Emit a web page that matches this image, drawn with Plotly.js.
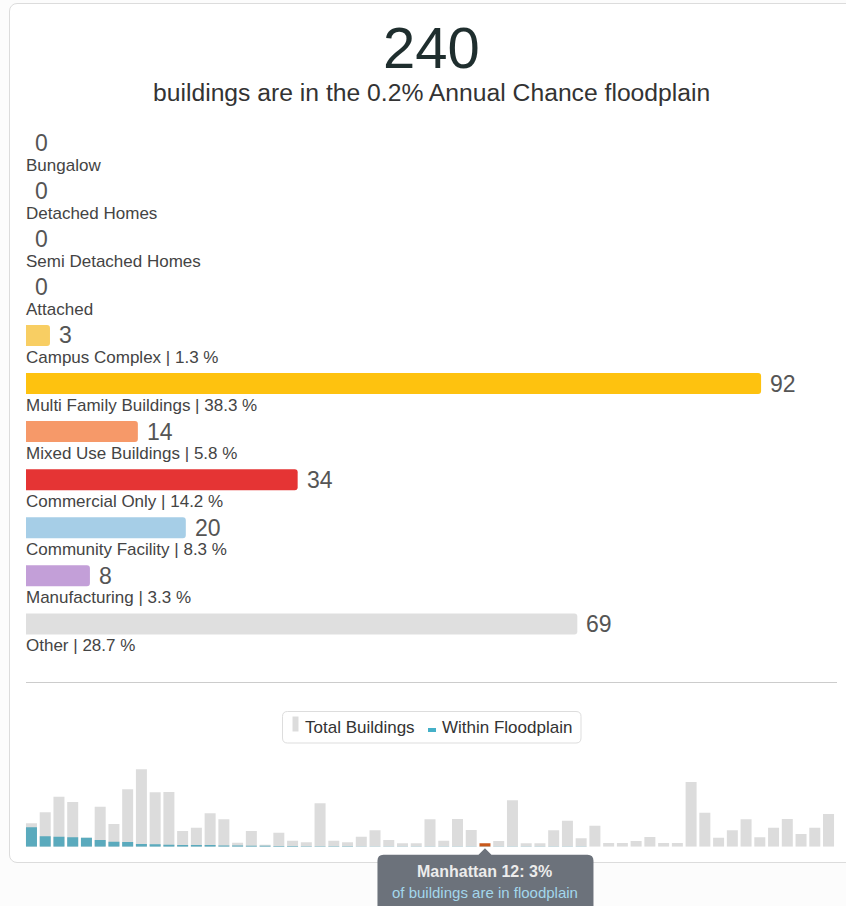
<!DOCTYPE html>
<html>
<head>
<meta charset="utf-8">
<script src="https://cdn.plot.ly/plotly-3.0.1.min.js"></script>
<style>
  html, body { margin: 0; padding: 0; width: 846px; height: 906px; overflow: hidden; background: #fcfcfc; }
  #card { position: absolute; left: 9px; top: 3px; width: 870px; height: 860px; border: 1px solid #dcdcdc; border-radius: 8px; background: #ffffff; box-sizing: border-box; }
  #chart { position: absolute; left: 0; top: 0; width: 846px; height: 906px; }
</style>
</head>
<body>
<div id="card"></div>
<div id="chart"></div>
<script>
// ---------- data ----------
const categories = ['Bungalow', 'Detached Homes', 'Semi Detached Homes', 'Attached', 'Campus Complex',
  'Multi Family Buildings', 'Mixed Use Buildings', 'Commercial Only', 'Community Facility', 'Manufacturing', 'Other'];
const counts = [0, 0, 0, 0, 3, 92, 14, 34, 20, 8, 69];
const shares = [0, 0, 0, 0, 1.3, 38.3, 5.8, 14.2, 8.3, 3.3, 28.7];
const categoryColors = ['#cccccc', '#cccccc', '#cccccc', '#cccccc', '#f8ce63', '#fec20f', '#f69969',
  '#e53434', '#a6cee7', '#c39fd8', '#dfdfdf'];
const floodplainName = '0.2% Annual Chance';

// community districts (ordered as in the strip chart), totals and buildings within floodplain (hundreds)
const districtIndex = [1,2,3,4,5,6,7,8,9,10,11,12,13,14,15,16,17,18,19,20,21,22,23,24,25,26,27,28,29,30,
  31,32,33,34,35,36,37,38,39,40,41,42,43,44,45,46,47,48,49,50,51,52,53,54,55,56,57,58,59];
const totalBuildings = [23.4, 34.4, 50, 44.7, 9, 40, 22.7, 57.4, 77.4, 54.4,
  54.7, 15.7, 19, 33.4, 27.4, 4, 15.7, 2, 14, 6,
  4.4, 43.4, 6, 4.4, 10, 16.4, 6.7, 3.4, 3.4, 27.4,
  6, 27.7, 16.7, 3.4, 5.7, 46.4, 3.4, 3.4, 16.4, 26,
  8.5, 21, 3.7, 3.7, 5.7, 9.7, 3.7, 3.7, 64.7, 34,
  9, 16.4, 27.4, 9.4, 19, 27.7, 12.7, 19, 32.7];
const floodplainBuildings = [19.4, 10.4, 10, 9.4, 9, 6.7, 5, 4.7, 2.7, 2.4,
  2, 1.7, 1.7, 1.7, 1.3, 1.3, 1, 1, 0.8, 0.6,
  0.5, 0.5, 0.4, 0.4, 0.3, 0.3, 0.3, 0.2, 0.2, 0.2,
  0.2, 0.2, 0.1, 0.1, 0.1, 0.1, 0.1, 0.1, 0.1, 0.1,
  0.1, 0, 0, 0, 0, 0, 0, 0, 0, 0,
  0, 0, 0, 0, 0, 0, 0, 0, 0];
const highlightDistrict = 34;
const highlightName = 'Manhattan 12';
const highlightPct = 3;

// ---------- styles ----------
const W = 846, H = 906;
const FONT = '"Liberation Sans", Arial, Helvetica, sans-serif';
const px = v => v / W;          // screen x -> paper
const py = v => 1 - v / H;      // screen y -> paper

const total = counts.reduce((a, b) => a + b, 0);

const traces = [
  {
    type: 'bar', orientation: 'h',
    x: counts, y: categories,
    width: 0.437,
    marker: { color: categoryColors, cornerradius: 3 },
    hoverinfo: 'skip', showlegend: false,
    xaxis: 'x', yaxis: 'y'
  },
  {
    type: 'bar', name: 'Total Buildings',
    x: districtIndex, y: totalBuildings,
    width: 0.8,
    marker: { color: districtIndex.map(d => d === highlightDistrict ? '#c8591c' : '#dcdcdc') },
    hoverinfo: 'skip', showlegend: false,
    xaxis: 'x2', yaxis: 'y2'
  },
  {
    type: 'bar', name: 'Within Floodplain',
    x: districtIndex, y: floodplainBuildings,
    width: 0.8,
    marker: { color: '#5aaabd' },
    hoverinfo: 'skip', showlegend: false,
    xaxis: 'x2', yaxis: 'y2'
  }
];

const BASE_Y = 846.7; // screen y of the strip-chart baseline (yaxis2 domain bottom)

const annotations = [];
// headline
annotations.push({
  xref: 'paper', yref: 'paper', x: px(432), y: py(47), xanchor: 'center', yanchor: 'middle',
  text: String(total), showarrow: false, font: { family: FONT, size: 58, color: '#1f2e2e' }
});
annotations.push({
  xref: 'paper', yref: 'paper', x: px(432), y: py(93), xanchor: 'center', yanchor: 'middle',
  text: 'buildings are in the ' + floodplainName + ' floodplain', showarrow: false,
  font: { family: FONT, size: 24.7, color: '#333333' }
});
// value labels and category labels
categories.forEach((c, i) => {
  annotations.push({
    xref: 'x', yref: 'y', x: counts[i], y: c, xanchor: 'left', yanchor: 'middle', xshift: 7,
    text: String(counts[i]), showarrow: false, font: { family: FONT, size: 23, color: '#555555' }
  });
  annotations.push({
    xref: 'x', yref: 'y', x: 0, y: c, xanchor: 'left', yanchor: 'middle', xshift: -2, yshift: -22,
    text: counts[i] > 0 ? c + ' | ' + shares[i] + ' %' : c, showarrow: false,
    font: { family: FONT, size: 17, color: '#444444' }
  });
});
// legend texts
annotations.push({
  xref: 'paper', yref: 'paper', x: px(303), y: py(727), xanchor: 'left', yanchor: 'middle',
  text: 'Total Buildings', showarrow: false, font: { family: FONT, size: 17, color: '#333333' }
});
annotations.push({
  xref: 'paper', yref: 'paper', x: px(440), y: py(727), xanchor: 'left', yanchor: 'middle',
  text: 'Within Floodplain', showarrow: false, font: { family: FONT, size: 17, color: '#333333' }
});
// tooltip texts
annotations.push({
  xref: 'x2', yref: 'paper', x: highlightDistrict, y: py(BASE_Y), xanchor: 'center', yanchor: 'middle', yshift: -25,
  text: '<b>' + highlightName + ': ' + highlightPct + '%</b>', showarrow: false,
  font: { family: FONT, size: 16, color: '#ececec' }
});
annotations.push({
  xref: 'x2', yref: 'paper', x: highlightDistrict, y: py(BASE_Y), xanchor: 'center', yanchor: 'middle', yshift: -45.5,
  text: 'of buildings are in floodplain', showarrow: false,
  font: { family: FONT, size: 15, color: '#a3d7ec' }
});

// rounded rect path in screen pixels, relative to bottom-left paper anchor (y up)
function rr(x0, y0, x1, y1, r) {
  const Y = v => H - v;
  return `M${x0 + r},${Y(y0)} L${x1 - r},${Y(y0)} Q${x1},${Y(y0)} ${x1},${Y(y0 + r)} ` +
    `L${x1},${Y(y1 - r)} Q${x1},${Y(y1)} ${x1 - r},${Y(y1)} L${x0 + r},${Y(y1)} ` +
    `Q${x0},${Y(y1)} ${x0},${Y(y1 - r)} L${x0},${Y(y0 + r)} Q${x0},${Y(y0)} ${x0 + r},${Y(y0)} Z`;
}

const shapes = [
  // divider
  { type: 'line', xref: 'paper', yref: 'paper', x0: px(26), x1: px(837), y0: py(682.5), y1: py(682.5),
    line: { color: '#cccccc', width: 1 } },
  // legend frame
  { type: 'path', xref: 'paper', yref: 'paper', xsizemode: 'pixel', ysizemode: 'pixel', xanchor: 0, yanchor: 0,
    path: rr(282.5, 711.5, 581, 743, 5), fillcolor: '#ffffff', line: { color: '#dddddd', width: 1 } },
  // legend icons
  { type: 'rect', xref: 'paper', yref: 'paper', x0: px(292.5), x1: px(298.5), y0: py(731.5), y1: py(716.5),
    fillcolor: '#dcdcdc', line: { width: 0 } },
  { type: 'rect', xref: 'paper', yref: 'paper', x0: px(428), x1: px(436), y0: py(732), y1: py(728),
    fillcolor: '#45b0c8', line: { width: 0 } },
  // tooltip bubble anchored to the highlighted district
  { type: 'path', xref: 'x2', yref: 'paper', xsizemode: 'pixel', ysizemode: 'pixel',
    xanchor: highlightDistrict, yanchor: py(BASE_Y),
    path: 'M-101.5,-8 L-6.5,-8 L0,-1.5 L6.5,-8 L102.5,-8 Q108.5,-8 108.5,-14 L108.5,-70 L-107.5,-70 L-107.5,-14 Q-107.5,-8 -101.5,-8 Z',
    fillcolor: '#6c727b', line: { width: 0 } }
];

const layout = {
  width: W, height: H,
  margin: { l: 0, r: 0, t: 0, b: 0, pad: 0 },
  paper_bgcolor: 'rgba(0,0,0,0)', plot_bgcolor: 'rgba(0,0,0,0)',
  showlegend: false,
  barmode: 'overlay',
  font: { family: FONT },
  xaxis: { domain: [px(26), 1], range: [0, 820 / 7.99], visible: false, fixedrange: true },
  yaxis: { type: 'category', categoryorder: 'array', categoryarray: categories,
    domain: [py(648), py(119)], range: [10.5, -0.5], visible: false, fixedrange: true },
  xaxis2: { anchor: 'y2', domain: [px(24.6), px(835.4)], range: [0.5, 59.5], visible: false, fixedrange: true },
  yaxis2: { anchor: 'x2', domain: [py(BASE_Y), py(766.7)], range: [0, 80], visible: false, fixedrange: true },
  annotations: annotations,
  shapes: shapes
};

Plotly.newPlot('chart', traces, layout, { staticPlot: true, displayModeBar: false });
</script>
</body>
</html>
